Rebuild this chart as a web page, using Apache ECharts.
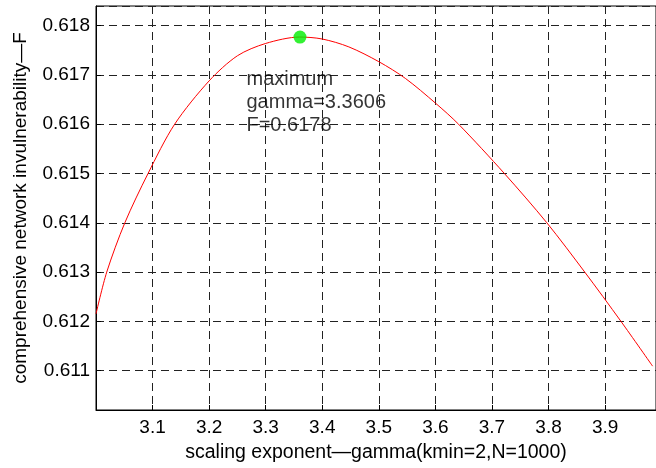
<!DOCTYPE html>
<html>
<head>
<meta charset="utf-8">
<script src="https://cdn.jsdelivr.net/npm/echarts@6/dist/echarts.min.js"></script>
<style>
  html, body { margin: 0; padding: 0; background: #fff; }
  #chart { width: 656px; height: 468px; }
</style>
</head>
<body>
<div id="chart"></div>
<script>
// values
var gamma = [3.000, 3.019, 3.051, 3.092, 3.139, 3.200, 3.250, 3.300, 3.360, 3.400, 3.447, 3.500, 3.547, 3.600, 3.641, 3.722, 3.797, 3.864, 3.928, 3.984]
var invulnerability = [0.61215, 0.61300, 0.61400, 0.61500, 0.61600, 0.61688, 0.61739, 0.61764, 0.61777, 0.61773, 0.61757, 0.61727, 0.61693, 0.61643, 0.61600, 0.61500, 0.61400, 0.61300, 0.61200, 0.61109]
var peakGamma = 3.3606
var peakF = 0.61777
var xTicks = [3.1, 3.2, 3.3, 3.4, 3.5, 3.6, 3.7, 3.8, 3.9]
var yTicks = [0.611, 0.612, 0.613, 0.614, 0.615, 0.616, 0.617, 0.618]

var font = 'Liberation Sans, Arial, sans-serif'
var chart = echarts.init(document.getElementById('chart'))

chart.setOption({
  backgroundColor: '#fff',
  animation: false,
  grid: {
    left: 96,
    top: 6,
    right: -2,
    bottom: 57,
    show: true,
    borderColor: '#000',
    borderWidth: 1
  },
  xAxis: {
    type: 'value',
    min: 3.0,
    max: 3.99,
    interval: 0.1,
    name: 'scaling exponent\u2014gamma(kmin=2,N=1000)',
    nameLocation: 'middle',
    nameGap: 33,
    nameTextStyle: { fontFamily: font, fontSize: 19.5, color: '#000' },
    axisLine: { show: true, onZero: false, lineStyle: { color: '#000', width: 1 } },
    axisTick: { show: true, inside: true, length: 5, lineStyle: { color: '#000' } },
    axisLabel: {
      fontFamily: font,
      fontSize: 19,
      color: '#000',
      margin: 8,
      showMinLabel: false,
      showMaxLabel: false,
      formatter: function(v) {
        var hit = xTicks.find(function(t) { return Math.abs(t - v) < 1e-6 })
        return hit ? hit.toFixed(1) : ''
      }
    },
    splitLine: { show: true, lineStyle: { color: '#222', type: [8, 5], width: 1 } }
  },
  yAxis: {
    type: 'value',
    min: 0.6102,
    max: 0.6184,
    minInterval: 0.001,
    maxInterval: 0.001,
    name: 'comprehensive network invulnerability\u2014F',
    nameLocation: 'middle',
    nameGap: 66,
    nameTextStyle: { fontFamily: font, fontSize: 19, color: '#000' },
    axisLine: { show: true, onZero: false, lineStyle: { color: '#000', width: 1 } },
    axisTick: { show: true, inside: true, length: 5, lineStyle: { color: '#000' } },
    axisLabel: {
      fontFamily: font,
      fontSize: 19,
      color: '#000',
      margin: 6,
      showMinLabel: false,
      showMaxLabel: false,
      formatter: function(v) {
        var hit = yTicks.find(function(t) { return Math.abs(t - v) < 1e-7 })
        return hit ? hit.toFixed(3) : ''
      }
    },
    splitLine: { show: true, lineStyle: { color: '#222', type: [8, 5], width: 1 } }
  },
  series: [
    {
      type: 'line',
      data: gamma.map(function(g, i) { return [g, invulnerability[i]] }),
      smooth: 0.3,
      showSymbol: false,
      lineStyle: { color: '#ff0000', width: 1 },
      z: 3
    },
    {
      type: 'scatter',
      data: [[peakGamma, peakF]],
      symbol: 'circle',
      symbolSize: 13,
      itemStyle: { color: '#00ee00' },
      z: 4,
      label: {
        show: true,
        position: [-47, 37],
        align: 'left',
        verticalAlign: 'top',
        fontFamily: font,
        fontSize: 20,
        lineHeight: 23,
        color: '#000',
        formatter: function() {
          return 'maximum\ngamma=' + peakGamma.toFixed(4) + '\nF=' + peakF.toFixed(4)
        }
      }
    }
  ]
})
</script>
</body>
</html>
